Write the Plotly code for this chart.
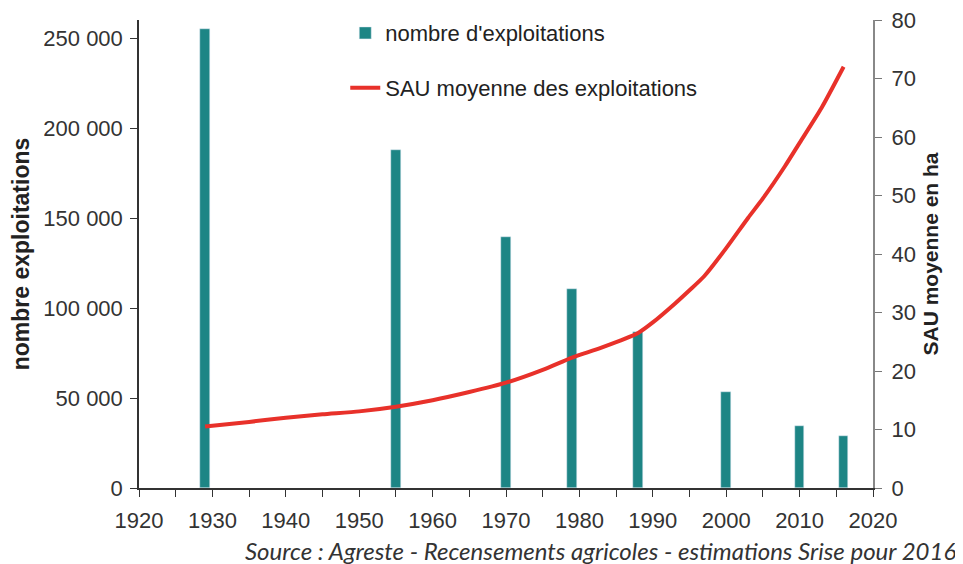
import plotly.graph_objects as go

# ---- data ----
bar_years = [1929, 1955, 1970, 1979, 1988, 2000, 2010, 2016]
nb_exploitations = [255000, 188000, 139500, 110500, 86500, 53500, 34500, 29000]

sau_years = [1929, 1935, 1940, 1945, 1950, 1955, 1960, 1965, 1970, 1975, 1979,
             1983, 1988, 1990, 1993, 1995, 1997, 2000, 2003, 2005, 2008, 2010,
             2013, 2016]
sau_moyenne = [10.5, 11.3, 12.0, 12.6, 13.1, 13.9, 15.0, 16.4, 18.0, 20.2, 22.3,
               24.0, 26.5, 28.3, 31.5, 33.8, 36.2, 41.0, 46.2, 49.5, 55.0, 59.0,
               65.0, 72.0]

x_tickvals = list(range(1920, 2021, 5))
x_ticktext = [str(v) if v % 10 == 0 else "" for v in x_tickvals]
left_tickvals = [0, 50000, 100000, 150000, 200000, 250000]
left_ticktext = ["0", "50 000", "100 000", "150 000", "200 000", "250 000"]
right_tickvals = [0, 10, 20, 30, 40, 50, 60, 70, 80]

TEAL = "#1d8585"
RED = "#e8312a"
FONT = "Liberation Sans, Arial, sans-serif"
TXT = "#333333"

fig = go.Figure()
fig.add_trace(go.Bar(
    x=bar_years, y=nb_exploitations, width=1.3, marker_color=TEAL,
    name="nombre d'exploitations", xaxis="x", yaxis="y", legend="legend",
))
fig.add_trace(go.Scatter(
    x=sau_years, y=sau_moyenne, mode="lines", line=dict(color=RED, width=4, shape="spline", smoothing=0.6),
    name="SAU moyenne des exploitations", xaxis="x", yaxis="y2", legend="legend2",
))

tickfont = dict(family=FONT, size=22, color=TXT)

fig.update_layout(
    width=955, height=556,
    margin=dict(l=131, r=90, t=12, b=76, autoexpand=False),
    plot_bgcolor="white", paper_bgcolor="white",
    font=dict(family=FONT, color=TXT),
    bargap=0,
    xaxis=dict(
        range=[1920, 2020], tickmode="array", tickvals=x_tickvals, ticktext=x_ticktext,
        ticks="outside", ticklen=7, tickcolor="#333", tickwidth=1.2,
        showline=True, linecolor="#333", linewidth=1.5, showgrid=False, zeroline=False,
        tickfont=tickfont, ticklabelstandoff=5, automargin=False, ticklabeloverflow="allow",
    ),
    xaxis2=dict(
        range=[1920, 2020], overlaying="x", anchor="y", tickmode="array", tickvals=x_tickvals,
        ticks="inside", ticklen=7, tickcolor="#333", tickwidth=1.2, showticklabels=False,
        showline=False, showgrid=False, zeroline=False, automargin=False,
    ),
    yaxis=dict(
        range=[0, 260000], tickmode="array", tickvals=left_tickvals, ticktext=left_ticktext,
        ticks="outside", ticklen=7, tickcolor="#333", tickwidth=1.2,
        showline=True, linecolor="#333", linewidth=1.5, showgrid=False, zeroline=False,
        tickfont=tickfont, ticklabelstandoff=3, automargin=False, ticklabeloverflow="allow",
        title=dict(text="<b>nombre exploitations</b>", font=dict(family=FONT, size=23, color="#222"), standoff=10),
    ),
    yaxis3=dict(
        range=[0, 260000], overlaying="y", anchor="x", tickmode="array", tickvals=left_tickvals,
        ticks="inside", ticklen=7, tickcolor="#333", tickwidth=1.2, showticklabels=False,
        showline=False, showgrid=False, zeroline=False, automargin=False,
    ),
    yaxis2=dict(
        range=[0, 80], overlaying="y", side="right", anchor="x", tickmode="array", tickvals=right_tickvals,
        ticks="outside", ticklen=7, tickcolor="#777", tickwidth=1.2,
        showline=True, linecolor="#888", linewidth=2, showgrid=False, zeroline=False,
        tickfont=tickfont, ticklabelstandoff=5, automargin=False, ticklabeloverflow="allow",
        title=dict(text="<b>SAU moyenne en ha</b>", font=dict(family=FONT, size=21, color="#222"), standoff=8),
    ),
    yaxis4=dict(
        range=[0, 80], overlaying="y", side="right", anchor="x", tickmode="array", tickvals=right_tickvals,
        ticks="inside", ticklen=7, tickcolor="#777", tickwidth=1.2, showticklabels=False,
        showline=False, showgrid=False, zeroline=False, automargin=False,
    ),
    legend=dict(x=0.281, y=0.972, xanchor="left", yanchor="middle", bgcolor="rgba(0,0,0,0)",
                font=dict(family=FONT, size=22, color="#222")),
    legend2=dict(x=0.281, y=0.855, xanchor="left", yanchor="middle", bgcolor="rgba(0,0,0,0)",
                 font=dict(family=FONT, size=22, color="#222")),
    showlegend=True,
    annotations=[dict(
        text="<i>Source : Agreste - Recensements agricoles - estimations Srise pour 2016</i>",
        xref="paper", yref="paper", x=1.1158, y=-0.134, xanchor="right", yanchor="middle",
        showarrow=False, font=dict(family="Lato, sans-serif", size=24, color="#333"),
    )],
)

fig.write_html("out.html")
